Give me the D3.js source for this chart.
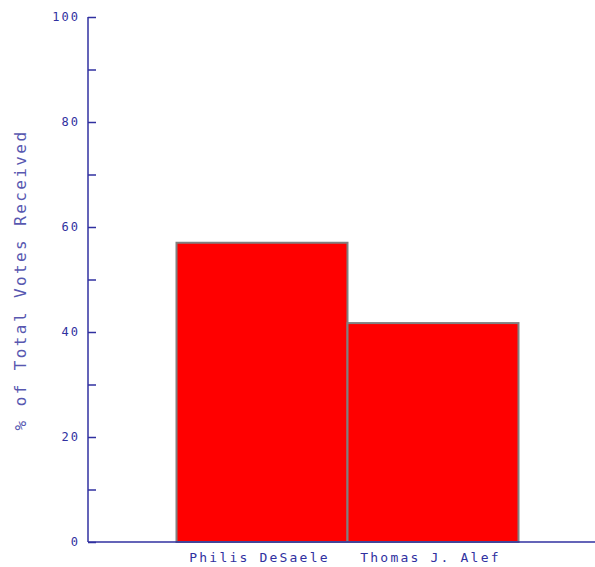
<!DOCTYPE html>
<html><head><meta charset="utf-8">
<script src="https://cdn.jsdelivr.net/npm/d3@7"></script>
<style>body{margin:0;background:#fff}</style>
</head><body>
<script>
const categories = ["Philis DeSaele", "Thomas J. Alef"];
const values = [57, 41.7];
const yTicks = [0, 20, 40, 60, 80, 100];
const yMinorTicks = [10, 30, 50, 70, 90];

const W = 595, H = 567;
const svg = d3.select("body").append("svg").attr("width", W).attr("height", H);
const axisColor = "#3030a0";
const y = d3.scaleLinear().domain([0, 100]).range([542, 17]);
const x = d3.scaleBand().domain(categories).range([176, 518]).paddingInner(0).paddingOuter(0);

// bars
svg.selectAll("rect.bar").data(categories).join("rect")
  .attr("x", d => x(d) + 0.5)
  .attr("y", (d, i) => y(values[i]))
  .attr("width", x.bandwidth())
  .attr("height", (d, i) => y(0) - y(values[i]))
  .attr("fill", "#ff0000").attr("stroke", "#808080").attr("stroke-width", 2);

// y axis
const yAxis = d3.axisRight(y).tickValues(yTicks.concat(yMinorTicks)).tickSize(8).tickFormat("");
const ga = svg.append("g").attr("transform", "translate(88,0)").call(yAxis);
ga.select(".domain").remove();
ga.selectAll(".tick line").attr("stroke", axisColor).attr("stroke-width", 1.5);
svg.append("line").attr("x1", 88).attr("x2", 88).attr("y1", y(100)).attr("y2", y(0))
  .attr("stroke", axisColor).attr("stroke-width", 1.5);
svg.selectAll("text.yt").data(yTicks).join("text")
  .attr("x", 80).attr("y", d => y(d)).attr("dy", "0.35em")
  .attr("text-anchor", "end").attr("fill", axisColor)
  .attr("font-family", "DejaVu Sans Mono").attr("font-size", 12).attr("letter-spacing", 2)
  .text(d => d);

// x axis
svg.append("line").attr("x1", 88).attr("x2", 595).attr("y1", y(0)).attr("y2", y(0))
  .attr("stroke", axisColor).attr("stroke-width", 1.5);
svg.selectAll("text.xt").data(categories).join("text")
  .attr("x", d => x(d) + x.bandwidth() / 2 - 2).attr("y", 557).attr("dy", "0.35em")
  .attr("text-anchor", "middle").attr("fill", axisColor)
  .attr("font-family", "DejaVu Sans Mono").attr("font-size", 13).attr("letter-spacing", 2.2)
  .text(d => d);

// y title
svg.append("text").attr("transform", "translate(20,280) rotate(-90)")
  .attr("dy", "0.35em").attr("text-anchor", "middle").attr("fill", "#5858b0")
  .attr("font-family", "DejaVu Sans Mono").attr("font-size", 16).attr("letter-spacing", 2.4)
  .text("% of Total Votes Received");
</script>
</body></html>
